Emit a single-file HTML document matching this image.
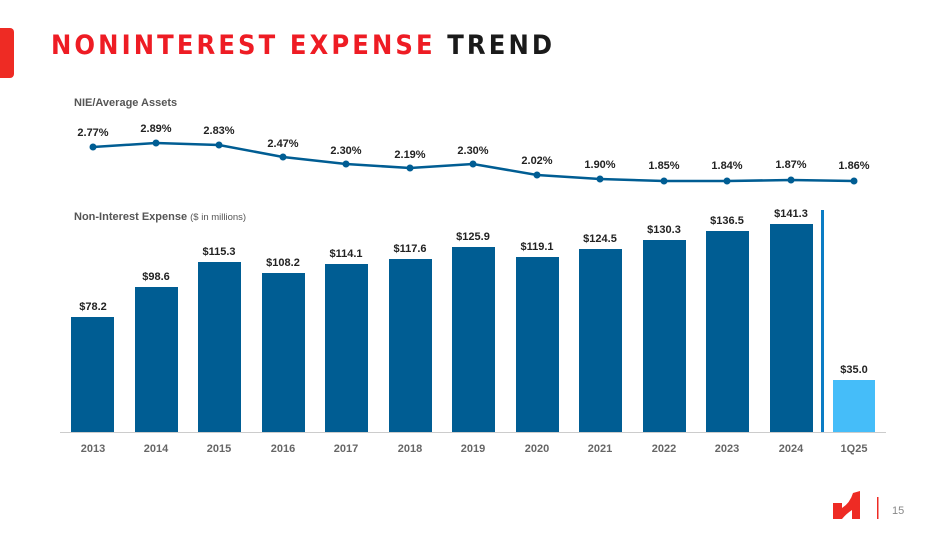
<!DOCTYPE html>
<html><head><meta charset="utf-8"><style>
body{margin:0;width:949px;height:534px;background:#fff;overflow:hidden;position:relative;font-family:"Liberation Sans",sans-serif}
</style></head><body>
<div style="position:absolute;left:0;top:28px;width:14px;height:50px;background:#ee2b24;border-radius:0 4px 4px 0"></div>
<div style="position:absolute;left:51px;top:30px;font-size:27px;font-weight:bold;letter-spacing:3.1px;color:#ee1c24;font-family:'DejaVu Sans Condensed','Liberation Sans Narrow','Liberation Sans',sans-serif">NONINTEREST EXPENSE <span style="color:#1a1a1a">TREND</span></div>
<svg width="949" height="534" style="position:absolute;left:0;top:0" font-family="Liberation Sans, sans-serif">
<text x="74" y="106" font-size="11" font-weight="bold" fill="#555">NIE/Average Assets</text>
<text x="74" y="220" font-size="11" font-weight="bold" fill="#555">Non-Interest Expense <tspan font-weight="normal" font-size="9.5">($ in millions)</tspan></text>
<polyline fill="none" stroke="#005d93" stroke-width="2.5" points="93,147 156,143 219,145 283,157 346,164 410,168 473,164 537,175 600,179 664,181 727,181 791,180 854,181"/>
<g fill="#005d93">
<circle cx="93" cy="147" r="3.5"/><circle cx="156" cy="143" r="3.5"/><circle cx="219" cy="145" r="3.5"/><circle cx="283" cy="157" r="3.5"/><circle cx="346" cy="164" r="3.5"/><circle cx="410" cy="168" r="3.5"/><circle cx="473" cy="164" r="3.5"/><circle cx="537" cy="175" r="3.5"/><circle cx="600" cy="179" r="3.5"/><circle cx="664" cy="181" r="3.5"/><circle cx="727" cy="181" r="3.5"/><circle cx="791" cy="180" r="3.5"/><circle cx="854" cy="181" r="3.5"/>
</g>
<g font-size="11" font-weight="bold" fill="#222" text-anchor="middle">
<text x="93" y="136">2.77%</text><text x="156" y="132">2.89%</text><text x="219" y="134">2.83%</text><text x="283" y="147">2.47%</text><text x="346" y="154">2.30%</text><text x="410" y="158">2.19%</text><text x="473" y="154">2.30%</text><text x="537" y="164">2.02%</text><text x="600" y="168">1.90%</text><text x="664" y="169">1.85%</text><text x="727" y="169">1.84%</text><text x="791" y="168">1.87%</text><text x="854" y="169">1.86%</text>
</g>
<g fill="#005d93">
<rect x="71" y="317" width="43" height="115"/>
<rect x="135" y="287" width="43" height="145"/>
<rect x="198" y="262" width="43" height="170"/>
<rect x="262" y="273" width="43" height="159"/>
<rect x="325" y="264" width="43" height="168"/>
<rect x="389" y="259" width="43" height="173"/>
<rect x="452" y="247" width="43" height="185"/>
<rect x="516" y="257" width="43" height="175"/>
<rect x="579" y="249" width="43" height="183"/>
<rect x="643" y="240" width="43" height="192"/>
<rect x="706" y="231" width="43" height="201"/>
<rect x="770" y="224" width="43" height="208"/>
</g>
<rect x="833" y="380" width="42" height="52" fill="#45bdf9"/>
<rect x="821" y="210" width="3" height="223" fill="#0b7cc4"/>
<line x1="60" y1="432.5" x2="886" y2="432.5" stroke="#ccc" stroke-width="1"/>
<g font-size="11" font-weight="bold" fill="#222" text-anchor="middle">
<text x="93" y="310">$78.2</text><text x="156" y="280">$98.6</text><text x="219" y="255">$115.3</text><text x="283" y="266">$108.2</text><text x="346" y="257">$114.1</text><text x="410" y="252">$117.6</text><text x="473" y="240">$125.9</text><text x="537" y="250">$119.1</text><text x="600" y="242">$124.5</text><text x="664" y="233">$130.3</text><text x="727" y="224">$136.5</text><text x="791" y="217">$141.3</text><text x="854" y="373">$35.0</text>
</g>
<g font-size="11" font-weight="bold" fill="#666" text-anchor="middle">
<text x="93" y="452">2013</text><text x="156" y="452">2014</text><text x="219" y="452">2015</text><text x="283" y="452">2016</text><text x="346" y="452">2017</text><text x="410" y="452">2018</text><text x="473" y="452">2019</text><text x="537" y="452">2020</text><text x="600" y="452">2021</text><text x="664" y="452">2022</text><text x="727" y="452">2023</text><text x="791" y="452">2024</text><text x="854" y="452">1Q25</text>
</g>
<path d="M833,503 L842,503 L842,508 Q850,503 853,493 L860,491 L860,519 L852,519 L852,510 Q846,514 842,519 L833,519 Z" fill="#ee2b24"/>
<rect x="877" y="497" width="1.5" height="22" fill="#ee2b24"/>
<text x="892" y="514" font-size="11" fill="#888">15</text>
</svg>
</body></html>
